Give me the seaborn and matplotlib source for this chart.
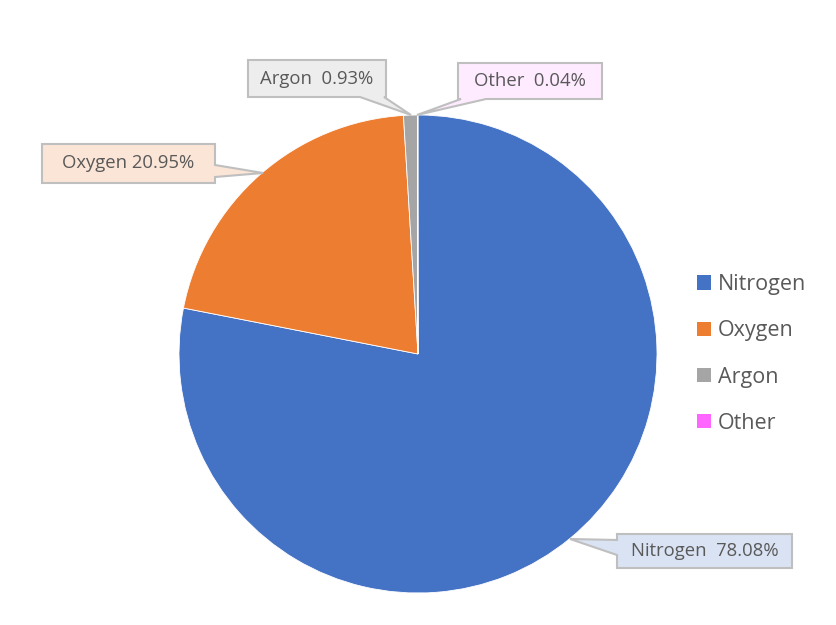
import matplotlib
matplotlib.use("Agg")
import matplotlib.pyplot as plt
import seaborn as sns
from matplotlib.patches import Patch, Polygon

gases = ["Nitrogen", "Oxygen", "Argon", "Other"]
shares = [78.08, 20.95, 0.93, 0.04]
label_texts = ["Nitrogen  78.08%", "Oxygen 20.95%", "Argon  0.93%", "Other  0.04%"]
colors = ["#4472C4", "#ED7D31", "#A5A5A5", "#FF66FF"]
box_fills = ["#DAE3F3", "#FBE5D6", "#EDEDED", "#FFEBFF"]

sns.set_style("white")
plt.rcParams["font.family"] = ["Open Sans", "DejaVu Sans"]

W, H = 837, 625
fig = plt.figure(figsize=(W / 100, H / 100), dpi=100)
cx, cy, r = 418, 354, 239
ax = fig.add_axes([(cx - r) / W, (H - cy - r) / H, 2 * r / W, 2 * r / H])
ax.pie(shares, colors=colors, startangle=90, counterclock=False, radius=1,
       wedgeprops=dict(edgecolor="white", linewidth=0.6))
ax.set_xlim(-1, 1)
ax.set_ylim(-1, 1)
ax.set_aspect("equal")
ax.axis("off")

def d(p):
    return ((p[0] - cx) / r, (cy - p[1]) / r)

# callout layout in pixels: box (x0, y0, x1, y1), pointer edge, base span, tip
layout = [
    ((617, 534, 792, 568), "left", (540, 555), (570, 539)),
    ((42, 144, 215, 183), "right", (165, 177), (263, 173)),
    ((248, 60, 386, 97), "bottom", (360, 384), (411, 115)),
    ((458, 63, 602, 99), "bottom", (461, 486), (417, 115)),
]

for txt, fill, (box, edge, (b0, b1), tip) in zip(label_texts, box_fills, layout):
    x0, y0, x1, y1 = box
    pts = [(x0, y0), (x1, y0)]
    if edge == "right":
        pts += [(x1, b0), tip, (x1, b1)]
    pts += [(x1, y1)]
    if edge == "bottom":
        pts += [(b1, y1), tip, (b0, y1)]
    pts += [(x0, y1)]
    if edge == "left":
        pts += [(x0, b1), tip, (x0, b0)]
    poly = Polygon([d(p) for p in pts], closed=True, fc=fill, ec="#BFBFBF",
                   lw=1.5, clip_on=False, joinstyle="miter", zorder=5)
    ax.add_patch(poly)
    tx, ty = d(((x0 + x1) / 2, (y0 + y1) / 2))
    ax.text(tx, ty, txt, ha="center", va="center", fontsize=13.3,
            color="#595959", zorder=6, clip_on=False)

handles = [Patch(facecolor=c, edgecolor="none") for c in colors]
fig.legend(handles, gases, loc="center left", bbox_to_anchor=(678 / W, 1 - 354 / H),
           frameon=False, fontsize=15.5, labelcolor="#595959", handlelength=0.65,
           handleheight=0.65, handletextpad=0.3, labelspacing=1.17)

fig.savefig("out.png", dpi=100)
